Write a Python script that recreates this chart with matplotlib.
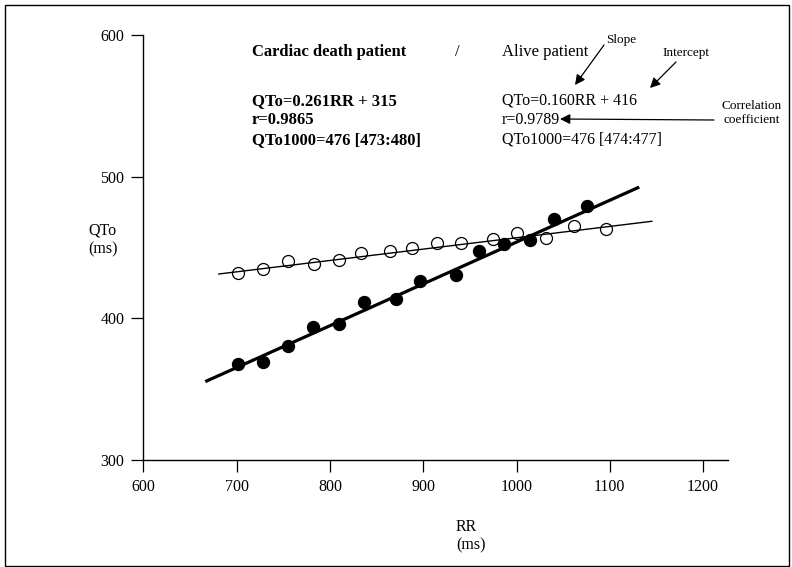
import matplotlib
matplotlib.use("Agg")
import matplotlib.pyplot as plt
from matplotlib.patches import Rectangle

plt.rcParams["font.family"] = ["Liberation Serif", "DejaVu Serif"]

# -----------------------------------------------------------------------------
# Data
# -----------------------------------------------------------------------------
# cardiac death patient (filled circles)
death_rr = [701, 728, 755, 782, 810, 837, 871, 897, 935, 960, 987, 1014, 1040, 1076]
death_qt = [368, 369, 380.5, 394, 396, 411.5, 413.5, 426.5, 430.5, 447.5, 452.5, 455, 470, 479]
# alive patient (open circles)
alive_rr = [701, 728, 755, 783, 810, 833, 864, 888, 915, 941, 975, 1000, 1032, 1062, 1096]
alive_qt = [432, 434.5, 440.5, 438.5, 441, 446, 447.5, 450, 453, 453.5, 456, 460, 457, 465, 463]

# regression lines (end points)
death_line_rr = [668, 1130]
death_line_qt = [355.8, 492.2]
alive_line_rr = [681, 1145]
alive_line_qt = [431.3, 468.5]

x_ticks = [600, 700, 800, 900, 1000, 1100, 1200]
y_ticks = [300, 400, 500, 600]

death_lines = ["QTo=0.261RR + 315", "r=0.9865", "QTo1000=476 [473:480]"]
alive_lines = ["QTo=0.160RR + 416", "r=0.9789", "QTo1000=476 [474:477]"]

# -----------------------------------------------------------------------------
# Figure
# -----------------------------------------------------------------------------
W, H = 792, 567
fig = plt.figure(figsize=(W / 100, H / 100), dpi=100)


def px(x, y):
    """pixel position in the picture -> figure fraction"""
    return x / W, 1 - y / H


ax = fig.add_axes([143.3 / W, (H - 460) / H, (728.3 - 143.3) / W, (460 - 35) / H])

ax.plot(death_line_rr, death_line_qt, color="black", lw=2.3, zorder=2)
ax.plot(alive_line_rr, alive_line_qt, color="black", lw=1.0, zorder=2)
ax.plot(death_rr, death_qt, "o", color="black", ms=8.6, zorder=3)
ax.plot(alive_rr, alive_qt, "o", mfc="none", mec="black", mew=0.9, ms=8.6, zorder=3)

ax.set_xlim(600, 1227)
ax.set_ylim(300, 600)
ax.set_xticks(x_ticks)
ax.set_yticks(y_ticks)
ax.tick_params(direction="out", length=8.5, width=0.9, labelsize=11.5, pad=5)
for side in ["top", "right"]:
    ax.spines[side].set_visible(False)
for side in ["left", "bottom"]:
    ax.spines[side].set_linewidth(1.0)

# axis labels
fig.text(*px(88, 240), "QTo\n(ms)", fontsize=11.5, ha="left", va="center", linespacing=1.3)
fig.text(*px(456, 536), "RR\n(ms)", fontsize=11.5, ha="left", va="center", linespacing=1.2)

# header text
fig.text(*px(252, 52), "Cardiac death patient", fontsize=12, fontweight="bold",
         ha="left", va="center")
fig.text(*px(457, 52), "/", fontsize=12, ha="center", va="center")
fig.text(*px(502, 52), "Alive patient", fontsize=12, ha="left", va="center")

for i, (a, b) in enumerate(zip(death_lines, alive_lines)):
    yy = 101 + i * 19.5
    fig.text(*px(252, yy), a, fontsize=12, fontweight="bold", ha="left", va="center")
    fig.text(*px(502, yy), b, fontsize=11.5, ha="left", va="center")

# annotations
fig.text(*px(621, 40), "Slope", fontsize=9.5, ha="center", va="center")
fig.text(*px(686, 53), "Intercept", fontsize=9.5, ha="center", va="center")
fig.text(*px(752, 113), "Correlation\ncoefficient", fontsize=9.5, ha="center",
         va="center", linespacing=1.2)

arrow = dict(arrowstyle="-|>,head_length=0.6,head_width=0.3", color="black", lw=0.9,
             shrinkA=0, shrinkB=0)
fig.add_artist(plt.Annotation("", xy=px(575, 85), xytext=px(604, 45),
                              xycoords="figure fraction", textcoords="figure fraction",
                              arrowprops=arrow))
fig.add_artist(plt.Annotation("", xy=px(650, 88), xytext=px(676, 62),
                              xycoords="figure fraction", textcoords="figure fraction",
                              arrowprops=arrow))
fig.add_artist(plt.Annotation("", xy=px(560, 119), xytext=px(714, 120),
                              xycoords="figure fraction", textcoords="figure fraction",
                              arrowprops=arrow))

# frame round the picture
fig.add_artist(Rectangle(px(5, 566), (789 - 5) / W, (566 - 5) / H, transform=fig.transFigure,
                         fill=False, edgecolor="black", lw=1.0))

fig.savefig("out.png", dpi=100)
